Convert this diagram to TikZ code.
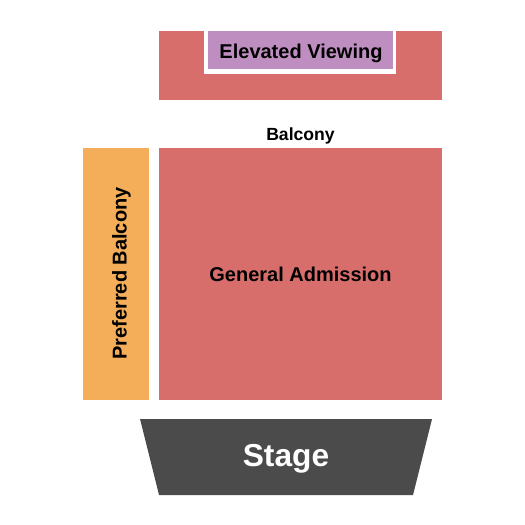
\documentclass[tikz,border=0pt]{standalone}
\usepackage{fontspec}
\setmainfont{Liberation Sans}
\definecolor{secred}{HTML}{D76E6C}
\definecolor{secpurple}{HTML}{BF8EC1}
\definecolor{secorange}{HTML}{F4AE5A}
\definecolor{stagegray}{HTML}{4B4B4B}
\begin{document}
\begin{tikzpicture}[x=1pt,y=-1pt,
  lbl/.style={font=\bfseries\fontsize{20}{20}\selectfont, text=black, inner sep=0pt, anchor=base}]
\useasboundingbox[fill=white] (0,0) rectangle (525,525);
% top red block
\fill[secred] (159,31) rectangle (442,100);
\fill[white] (204,31) rectangle (396,74);
\fill[secpurple] (208,31) rectangle (393,69);
\node[lbl] (ev) at (301,58.3) {Elevated Viewing};
% balcony label
\node[font=\bfseries\fontsize{17.6}{17.6}\selectfont, inner sep=0pt, anchor=base] (bal) at (300.5,140) {Balcony};
% general admission
\fill[secred] (159,148) rectangle (442,400);
\node[lbl] (ga) at (300.5,281) {General Admission};
% preferred balcony
\fill[secorange] (83,148) rectangle (149,400);
\node[lbl, rotate=90] (pb) at (126.5,273.5) {Preferred Balcony};
% stage
\fill[stagegray] (140,419) -- (432,419) -- (413,495) -- (159,495) -- cycle;
\node[font=\bfseries\fontsize{31.7}{31.7}\selectfont, text=white, inner sep=0pt, anchor=base] (st) at (286,466) {Stage};
\end{tikzpicture}
\end{document}
